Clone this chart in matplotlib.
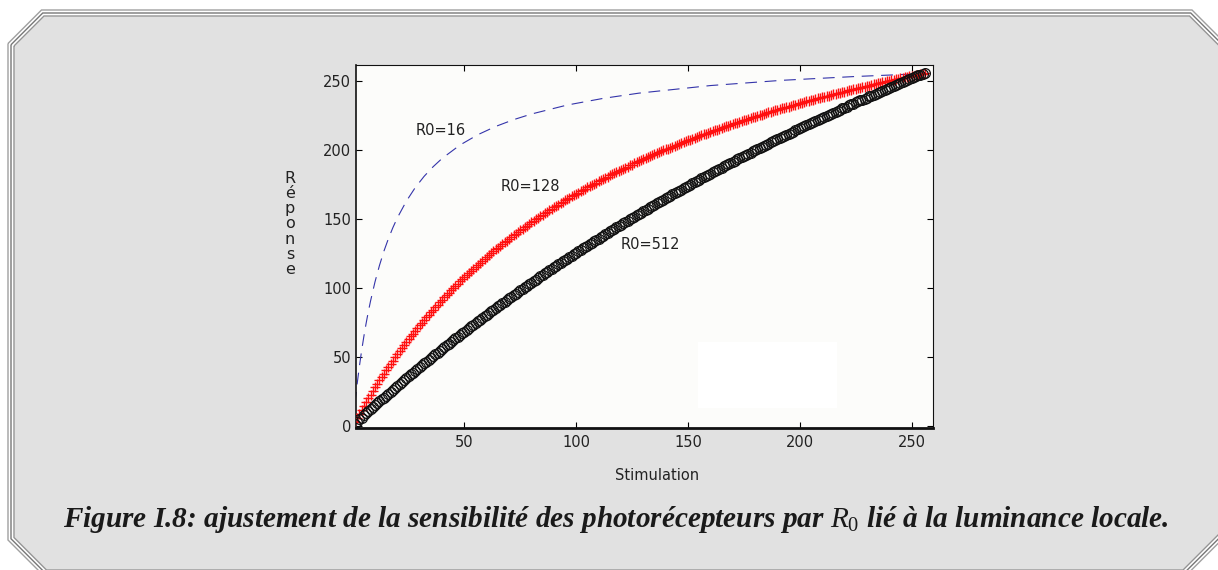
import numpy as np
import matplotlib
matplotlib.use("Agg")
import matplotlib.pyplot as plt
from matplotlib.patches import Polygon, Rectangle

plt.rcParams['lines.scale_dashes'] = False
plt.rcParams['mathtext.fontset'] = 'custom'
plt.rcParams['mathtext.it'] = 'Liberation Serif:italic'
plt.rcParams['mathtext.rm'] = 'Liberation Serif'
plt.rcParams['font.family'] = ['DejaVu Sans']

# ---------------- data ----------------
stimulation = np.arange(1, 257)

blue_x = [1, 2, 3, 4, 5, 6, 7, 8, 10, 12, 14, 16, 18, 20, 24, 28, 32, 36, 40,
          48, 56, 64, 72, 80, 96, 112, 128, 160, 192, 224, 256]
blue_y = [15.9, 30.1, 42.8, 54.2, 64.5, 73.9, 82.5, 90.3, 104.2, 116.1, 126.5,
          135.5, 143.5, 150.6, 162.6, 172.5, 180.7, 187.6, 193.6, 203.3, 210.8,
          216.8, 221.7, 225.8, 232.3, 237.1, 240.9, 246.4, 250.2, 252.9, 255.1]

red_y = [
    3.0, 5.9, 8.8, 11.6, 14.4, 17.1, 19.9, 22.5, 25.2, 27.8,
    30.3, 32.8, 35.3, 37.8, 40.2, 42.6, 44.9, 47.2, 49.5, 51.8,
    54.0, 56.2, 58.3, 60.5, 62.6, 64.7, 66.7, 68.7, 70.7, 72.7,
    74.7, 76.6, 78.5, 80.4, 82.2, 84.1, 85.9, 87.7, 89.4, 91.2,
    92.9, 94.6, 96.3, 98.0, 99.6, 101.3, 102.9, 104.5, 106.0, 107.6,
    109.1, 110.6, 112.2, 113.6, 115.1, 116.6, 118.0, 119.4, 120.8, 122.2,
    123.6, 125.0, 126.3, 127.7, 129.0, 130.3, 131.6, 132.9, 134.1, 135.4,
    136.6, 137.9, 139.1, 140.3, 141.5, 142.7, 143.9, 145.0, 146.2, 147.3,
    148.4, 149.5, 150.7, 151.8, 152.8, 153.9, 155.0, 156.0, 157.1, 158.1,
    159.1, 160.2, 161.2, 162.2, 163.2, 164.1, 165.1, 166.1, 167.0, 168.0,
    168.9, 169.8, 170.8, 171.7, 172.6, 173.5, 174.4, 175.3, 176.1, 177.0,
    177.9, 178.7, 179.6, 180.4, 181.3, 182.1, 182.9, 183.7, 184.5, 185.3,
    186.1, 186.9, 187.7, 188.5, 189.2, 190.0, 190.7, 191.5, 192.2, 193.0,
    193.7, 194.4, 195.2, 195.9, 196.6, 197.3, 198.0, 198.7, 199.4, 200.1,
    200.8, 201.4, 202.1, 202.8, 203.4, 204.1, 204.7, 205.4, 206.0, 206.7,
    207.3, 207.9, 208.5, 209.2, 209.8, 210.4, 211.0, 211.6, 212.2, 212.8,
    213.4, 214.0, 214.5, 215.1, 215.7, 216.3, 216.8, 217.4, 217.9, 218.5,
    219.0, 219.6, 220.1, 220.7, 221.2, 221.7, 222.3, 222.8, 223.3, 223.8,
    224.3, 224.9, 225.4, 225.9, 226.4, 226.9, 227.4, 227.9, 228.4, 228.8,
    229.3, 229.8, 230.3, 230.8, 231.2, 231.7, 232.2, 232.6, 233.1, 233.5,
    234.0, 234.4, 234.9, 235.3, 235.8, 236.2, 236.7, 237.1, 237.5, 238.0,
    238.4, 238.8, 239.2, 239.7, 240.1, 240.5, 240.9, 241.3, 241.7, 242.1,
    242.5, 242.9, 243.3, 243.7, 244.1, 244.5, 244.9, 245.3, 245.7, 246.1,
    246.4, 246.8, 247.2, 247.6, 248.0, 248.3, 248.7, 249.1, 249.4, 249.8,
    250.1, 250.5, 250.9, 251.2, 251.6, 251.9, 252.3, 252.6, 253.0, 253.3,
    253.6, 254.0, 254.3, 254.7, 255.0, 255.3,
]

black_y = [
    1.5, 3.0, 4.5, 5.9, 7.4, 8.9, 10.3, 11.8, 13.2, 14.7,
    16.1, 17.6, 19.0, 20.4, 21.8, 23.2, 24.6, 26.0, 27.4, 28.8,
    30.2, 31.6, 33.0, 34.3, 35.7, 37.1, 38.4, 39.8, 41.1, 42.5,
    43.8, 45.1, 46.4, 47.8, 49.1, 50.4, 51.7, 53.0, 54.3, 55.6,
    56.9, 58.1, 59.4, 60.7, 62.0, 63.2, 64.5, 65.7, 67.0, 68.2,
    69.5, 70.7, 71.9, 73.2, 74.4, 75.6, 76.8, 78.0, 79.3, 80.5,
    81.7, 82.8, 84.0, 85.2, 86.4, 87.6, 88.8, 89.9, 91.1, 92.3,
    93.4, 94.6, 95.7, 96.9, 98.0, 99.1, 100.3, 101.4, 102.5, 103.6,
    104.8, 105.9, 107.0, 108.1, 109.2, 110.3, 111.4, 112.5, 113.6, 114.7,
    115.7, 116.8, 117.9, 119.0, 120.0, 121.1, 122.2, 123.2, 124.3, 125.3,
    126.4, 127.4, 128.5, 129.5, 130.5, 131.6, 132.6, 133.6, 134.6, 135.6,
    136.7, 137.7, 138.7, 139.7, 140.7, 141.7, 142.7, 143.7, 144.6, 145.6,
    146.6, 147.6, 148.6, 149.5, 150.5, 151.5, 152.4, 153.4, 154.4, 155.3,
    156.3, 157.2, 158.2, 159.1, 160.0, 161.0, 161.9, 162.8, 163.8, 164.7,
    165.6, 166.5, 167.5, 168.4, 169.3, 170.2, 171.1, 172.0, 172.9, 173.8,
    174.7, 175.6, 176.5, 177.4, 178.2, 179.1, 180.0, 180.9, 181.7, 182.6,
    183.5, 184.4, 185.2, 186.1, 186.9, 187.8, 188.6, 189.5, 190.3, 191.2,
    192.0, 192.9, 193.7, 194.5, 195.4, 196.2, 197.0, 197.9, 198.7, 199.5,
    200.3, 201.1, 202.0, 202.8, 203.6, 204.4, 205.2, 206.0, 206.8, 207.6,
    208.4, 209.2, 210.0, 210.8, 211.5, 212.3, 213.1, 213.9, 214.7, 215.4,
    216.2, 217.0, 217.8, 218.5, 219.3, 220.1, 220.8, 221.6, 222.3, 223.1,
    223.8, 224.6, 225.3, 226.1, 226.8, 227.6, 228.3, 229.0, 229.8, 230.5,
    231.2, 232.0, 232.7, 233.4, 234.2, 234.9, 235.6, 236.3, 237.0, 237.7,
    238.5, 239.2, 239.9, 240.6, 241.3, 242.0, 242.7, 243.4, 244.1, 244.8,
    245.5, 246.2, 246.9, 247.5, 248.2, 248.9, 249.6, 250.3, 251.0, 251.6,
    252.3, 253.0, 253.7, 254.3, 255.0, 255.7,
]

curve_labels = ["R0=16", "R0=128", "R0=512"]
label_x = [28.0, 66.0, 120.0]
label_y = [213.5, 173.0, 131.5]

x_ticks = [50, 100, 150, 200, 250]
y_ticks = [0, 50, 100, 150, 200, 250]
x_label = "Stimulation"
y_label = "Réponse"
caption = r"Figure I.8: ajustement de la sensibilité des photorécepteurs par $R_{\mathit{0}}$ lié à la luminance locale."

# ---------------- figure ----------------
W, H = 1218, 570
fig = plt.figure(figsize=(W / 100, H / 100), dpi=100, facecolor='white')

bg = fig.add_axes([0, 0, 1, 1], zorder=-10)
bg.set_xlim(0, W)
bg.set_ylim(H, 0)
bg.axis('off')


def frame(o):
    L, T, R, B = 8 + o, 10 + o, 1226 - o, 576 - o
    s = o * 2 ** 0.5
    tl, tr, br, bl = 51.5 + s, 1182 - s, 1761.5 - s, 532 - s
    return [(L, tl - L), (tl - T, T), (tr + T, T), (R, R - tr),
            (R, br - R), (br - B, B), (B - bl, B), (L, bl + L)]


bg.add_patch(Polygon(frame(6.5), closed=True, fc='#e1e1e1', ec='none'))
for off, col in [(0, '#a0a0a0'), (3, '#777777'), (6, '#939393')]:
    bg.add_patch(Polygon(frame(off), closed=True, fill=False, ec=col, lw=1.0))

ax = fig.add_axes([356 / W, 1 - 428.3 / H, 577 / W, 363.3 / H])
ax.set_facecolor('#fcfcfa')
ax.set_xlim(1.5, 259.6)
ax.set_ylim(-1.9, 261.3)

ax.add_patch(Rectangle((154.5, 13.0), 62.0, 47.3, fc='white', ec='none', zorder=0.5))

ax.plot(blue_x, blue_y, color='#3434aa', lw=0.8, ls=(0, (8.5, 5.5)), zorder=2)
ax.plot(stimulation, red_y, '+', color='#ff1010', ms=7.5, mew=1.0, zorder=3)
ax.plot(stimulation, black_y, 'o', mfc='none', mec='#111111', ms=7.0, mew=0.9, zorder=4)

for t, x, y in zip(curve_labels, label_x, label_y):
    ax.text(x, y, t, ha='left', va='center', fontsize=10.5, color='#222222')

ax.set_xticks(x_ticks)
ax.set_yticks(y_ticks)
ax.tick_params(direction='in', length=4.5, width=0.8, top=True, right=True,
               labelsize=10.5, labelcolor='#222222')
ax.tick_params(axis='x', pad=5)
ax.tick_params(axis='y', pad=3.5)
for side, lw in [('bottom', 2.0), ('left', 1.2), ('top', 0.8), ('right', 0.8)]:
    ax.spines[side].set_linewidth(lw)
    ax.spines[side].set_color('#111111')

fig.text(657 / W, 1 - 476 / H, x_label, ha='center', va='center',
         fontsize=10.5, color='#222222')
fig.text(290 / W, 1 - 224 / H, "\n".join(y_label), ha='center', va='center',
         fontsize=11.5, color='#222222', linespacing=1.02)

cap = fig.text(63 / W, 1 - 527 / H, caption, ha='left', va='baseline',
               fontsize=20, family='Liberation Serif', weight='bold',
               style='italic', color='#1a1a1a')
fig.canvas.draw()
bb = cap.get_window_extent(renderer=fig.canvas.get_renderer())
cap.set_fontsize(20 * 1105 / bb.width)

fig.savefig('out.png', dpi=100, facecolor='white')
